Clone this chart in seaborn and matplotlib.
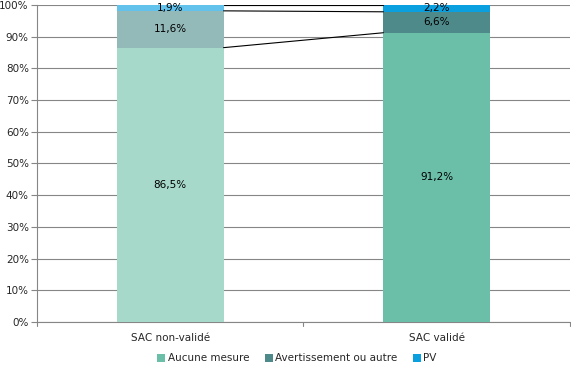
import pandas as pd
import numpy as np
import matplotlib
matplotlib.use('Agg')
import matplotlib.pyplot as plt
import seaborn as sns
from matplotlib.patches import Patch

# data
categories = ['SAC non-validé', 'SAC validé']
aucune = [86.5, 91.2]
avertissement = [11.6, 6.6]
pv = [1.9, 2.2]
series_names = ['Aucune mesure', 'Avertissement ou autre', 'PV']

# colours: left bar is a lighter shade of the right one
colors = {
    'Aucune mesure': ['#a6d9ca', '#6bbfa8'],
    'Avertissement ou autre': ['#93b9b9', '#4f8a8b'],
    'PV': ['#62c2ec', '#0aa0e0'],
}

sns.set_style('white')
plt.rcParams['font.family'] = ['DejaVu Sans']

df = pd.DataFrame({'cat': categories, 'a': aucune, 'b': avertissement, 'c': pv})
df['cum_a'] = df['a']
df['cum_b'] = df['a'] + df['b']
df['cum_c'] = df['a'] + df['b'] + df['c']

fig = plt.figure(figsize=(5.71, 3.71), dpi=100)
ax = fig.add_axes([0.065, 0.132, 0.933, 0.855])

# draw cumulative layers from top to bottom
for col, name in [('cum_c', 'PV'), ('cum_b', 'Avertissement ou autre'), ('cum_a', 'Aucune mesure')]:
    sns.barplot(data=df, x='cat', y=col, hue='cat', palette=dict(zip(categories, colors[name])),
                width=0.4, saturation=1, legend=False, ax=ax, zorder=3, linewidth=0,
                edgecolor='none')

# series lines between bars
for col in ['cum_a', 'cum_b', 'cum_c']:
    ax.plot([0.2, 0.8], df[col].values, color='black', lw=0.8, zorder=4)

# segment labels
for i in range(len(categories)):
    lows = [0, df['cum_a'][i], df['cum_b'][i]]
    vals = [df['a'][i], df['b'][i], df['c'][i]]
    for lo, v in zip(lows, vals):
        ax.text(i, lo + v / 2, f'{v:.1f}%'.replace('.', ','), ha='center', va='center',
                fontsize=7.5, color='black', zorder=5)

ax.set_ylim(0, 100)
ax.set_xlim(-0.5, 1.5)
ax.set_yticks(np.arange(0, 101, 10))
ax.set_yticklabels([f'{t}%' for t in range(0, 101, 10)], fontsize=7.5)
ax.tick_params(axis='x', labelsize=7.5, length=0, pad=8)
ax.tick_params(axis='y', length=4, width=0.8, color='#868686', left=True, pad=2)
ax.yaxis.grid(True, color='#868686', lw=0.8, zorder=0)
ax.set_xlabel('')
ax.set_ylabel('')
for s in ['top', 'right']:
    ax.spines[s].set_visible(False)
for s in ['left', 'bottom']:
    ax.spines[s].set_color('#868686')
    ax.spines[s].set_linewidth(0.8)
# category separators on the x axis
for xv in [-0.5, 0.5, 1.5]:
    ax.plot([xv, xv], [0, -1.2], color='#868686', lw=0.8, clip_on=False)

handles = [Patch(facecolor=colors[n][1], edgecolor='none', label=n) for n in series_names]
fig.legend(handles=handles, loc='lower center', bbox_to_anchor=(0.52, -0.005), ncol=3,
           frameon=False, fontsize=7.5, handlelength=0.8, handleheight=0.8,
           handletextpad=0.2, columnspacing=1.5)

fig.savefig('out.png', dpi=100)
